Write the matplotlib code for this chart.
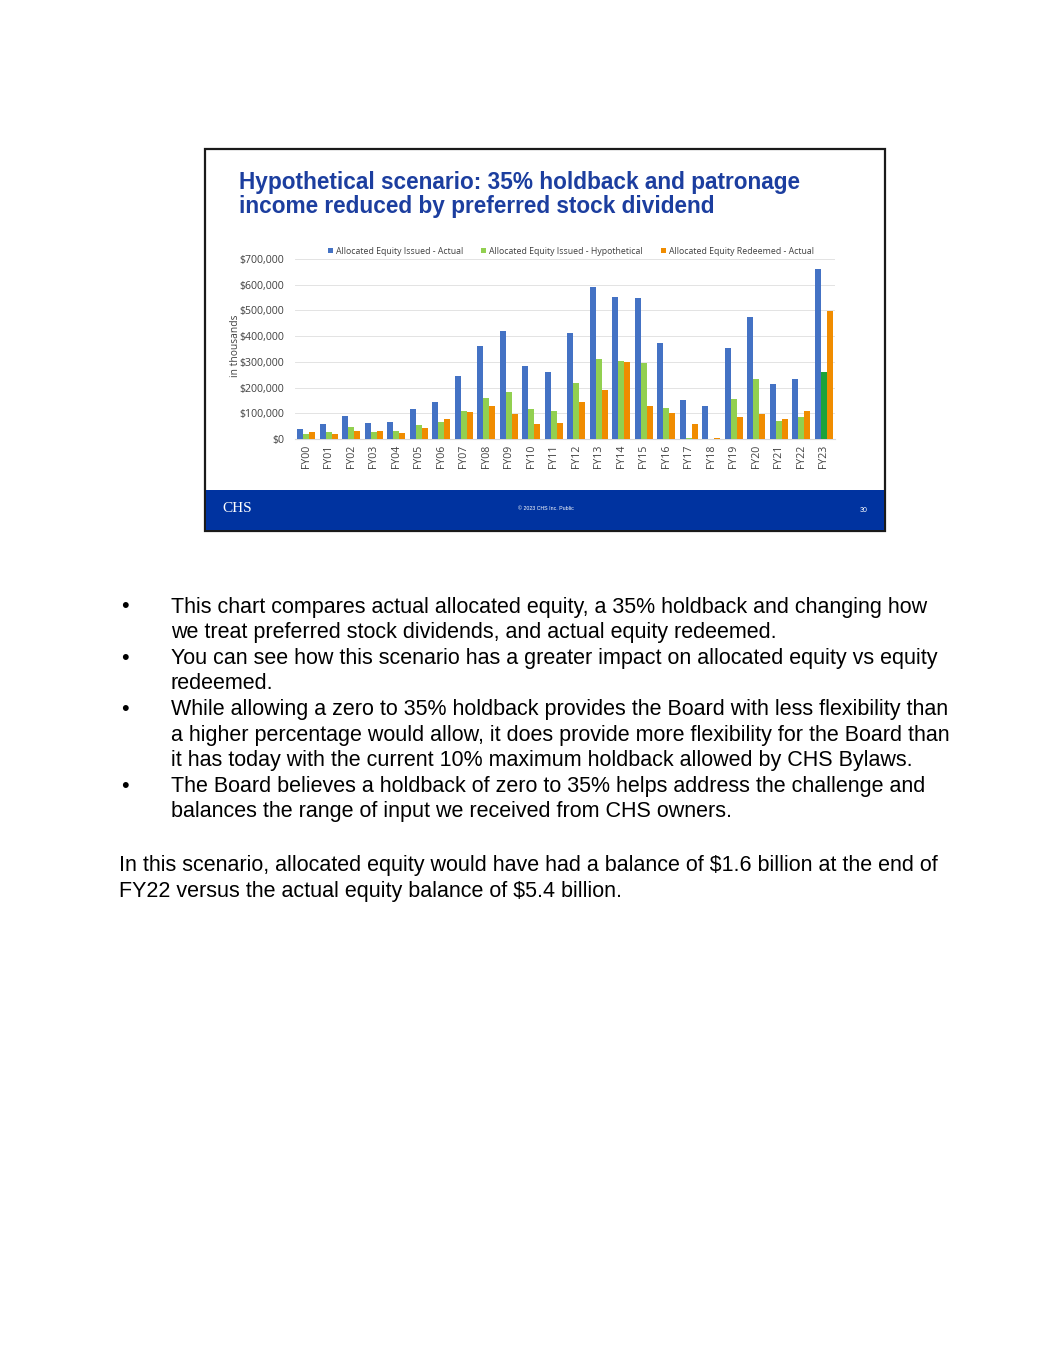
import matplotlib
matplotlib.use("Agg")
import matplotlib.pyplot as plt
from matplotlib.patches import Rectangle
import numpy as np

years = ["FY00", "FY01", "FY02", "FY03", "FY04", "FY05", "FY06", "FY07", "FY08", "FY09",
         "FY10", "FY11", "FY12", "FY13", "FY14", "FY15", "FY16", "FY17", "FY18", "FY19",
         "FY20", "FY21", "FY22", "FY23"]
issued_actual = [40, 60, 91, 61, 66, 118, 144, 245, 361, 421,
                 283, 260, 414, 592, 552, 548, 374, 152, 129, 352,
                 473, 214, 235, 661]
issued_hypothetical = [19, 29, 45, 29, 30, 55, 66, 108, 160, 184,
                       118, 109, 216, 310, 305, 294, 121, 4, 0, 155,
                       232, 69, 87, 260]
redeemed_actual = [27, 18, 30, 30, 23, 43, 78, 105, 127, 99,
                   60, 61, 144, 192, 299, 129, 101, 57, 5, 84,
                   96, 78, 110, 499]
series_names = ["Allocated Equity Issued - Actual",
                "Allocated Equity Issued - Hypothetical",
                "Allocated Equity Redeemed - Actual"]
y_ticks = [0, 100000, 200000, 300000, 400000, 500000, 600000, 700000]

title_lines = ["Hypothetical scenario: 35% holdback and patronage",
               "income reduced by preferred stock dividend"]
bullets = [
    ["This chart compares actual allocated equity, a 35% holdback and changing how",
     "we treat preferred stock dividends, and actual equity redeemed."],
    ["You can see how this scenario has a greater impact on allocated equity vs equity",
     "redeemed."],
    ["While allowing a zero to 35% holdback provides the Board with less flexibility than",
     "a higher percentage would allow, it does provide more flexibility for the Board than",
     "it has today with the current 10% maximum holdback allowed by CHS Bylaws."],
    ["The Board believes a holdback of zero to 35% helps address the challenge and",
     "balances the range of input we received from CHS owners."],
]
closing = ["In this scenario, allocated equity would have had a balance of $1.6 billion at the end of",
           "FY22 versus the actual equity balance of $5.4 billion."]

W, H = 1055, 1365
fig = plt.figure(figsize=(W / 100, H / 100), dpi=100)
fig.patch.set_facecolor("white")

def fx(x):
    return x / W

def fy(y):
    return 1 - y / H

# slide frame
fig.patches.append(Rectangle((fx(205), fy(531)), fx(885) - fx(205), fy(149) - fy(531),
                             transform=fig.transFigure, facecolor="white",
                             edgecolor="#1a1a1a", linewidth=1.6, zorder=-2))
# footer band
fig.patches.append(Rectangle((fx(206), fy(530)), fx(884) - fx(206), fy(490) - fy(530),
                             transform=fig.transFigure, facecolor="#0033A0",
                             edgecolor="none", zorder=-1))

# title
title_color = "#1C3E9F"
fig.text(fx(239), fy(182), title_lines[0], fontsize=16.3, fontweight="bold",
         family="Liberation Sans", color=title_color, va="center", ha="left")
fig.text(fx(239), fy(206), title_lines[1], fontsize=16.3, fontweight="bold",
         family="Liberation Sans", color=title_color, va="center", ha="left")

# chart axes
ax = fig.add_axes([fx(295), fy(439), fx(835) - fx(295), fy(259) - fy(439)])
ax.set_zorder(3)
x = np.arange(len(years))
bw = 0.27
blue = "#4472C4"
green = "#92D050"
orange = "#F08C00"
green_colors = [green] * (len(years) - 1) + ["#1BA33A"]
b1 = ax.bar(x - bw, [v * 1000 for v in issued_actual], bw, color=blue, label=series_names[0], zorder=3)
b2 = ax.bar(x, [v * 1000 for v in issued_hypothetical], bw, color=green_colors, label=series_names[1], zorder=3)
b3 = ax.bar(x + bw, [v * 1000 for v in redeemed_actual], bw, color=orange, label=series_names[2], zorder=3)

ax.set_xlim(-0.5, len(years) - 0.5)
ax.set_ylim(0, 700000)
ax.set_yticks(y_ticks)
ax.set_yticklabels(["${:,.0f}".format(v) for v in y_ticks], fontsize=7.6, color="#404040",
                   family="Open Sans")
ax.set_xticks(x)
ax.set_xticklabels(years, rotation=90, fontsize=7.6, color="#404040", family="Open Sans")
ax.tick_params(axis="y", length=0, pad=8)
ax.tick_params(axis="x", length=0, pad=4)
ax.grid(axis="y", color="#E3E3E3", linewidth=0.7, zorder=0)
for s in ["top", "right", "left"]:
    ax.spines[s].set_visible(False)
ax.spines["bottom"].set_color("#D9D9D9")
ax.spines["bottom"].set_linewidth(0.8)
ax.set_facecolor("none")

leg = ax.legend(handles=[b1.patches[0], b2.patches[0], b3.patches[0]],
                labels=series_names, loc="lower center", bbox_to_anchor=(0.511, 0.995),
                ncol=3, frameon=False, handlelength=0.6, handleheight=0.6,
                handletextpad=0.35, columnspacing=2.0, borderaxespad=0.1,
                prop={"family": "Open Sans", "size": 6.3})
for t in leg.get_texts():
    t.set_color("#404040")

fig.text(fx(236), fy(346), "in thousands", rotation=90, fontsize=7.4, color="#404040",
         family="Open Sans", ha="center", va="center")

# footer texts
fig.text(fx(237), fy(508), "CHS", fontsize=11, family="Liberation Serif", color="white",
         ha="center", va="center", zorder=5)
fig.text(fx(546), fy(509), "\u00a9 2023 CHS Inc. Public", fontsize=3.8, family="Liberation Sans",
         color="white", ha="center", va="center", zorder=5)
fig.text(fx(864), fy(511), "30", fontsize=5, family="Liberation Sans", color="white",
         ha="center", va="center", zorder=5)

# body text
body_fs = 15.5
line_h = 25.6
yy = 607
for b in bullets:
    fig.text(fx(121), fy(yy), "\u2022", fontsize=body_fs, family="Liberation Sans",
             color="black", ha="left", va="center")
    for ln in b:
        fig.text(fx(171), fy(yy), ln, fontsize=body_fs, family="Liberation Sans",
                 color="black", ha="left", va="center")
        yy += line_h
yy = 866
for ln in closing:
    fig.text(fx(119), fy(yy), ln, fontsize=body_fs, family="Liberation Sans",
             color="black", ha="left", va="center")
    yy += line_h

fig.savefig("out.png", dpi=100, facecolor="white")
